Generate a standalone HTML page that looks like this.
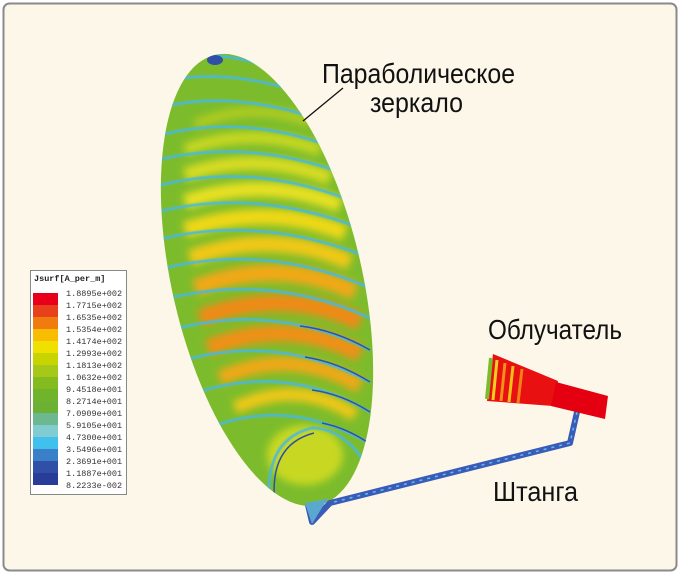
<!DOCTYPE html>
<html><head><meta charset="utf-8"><style>
html,body{margin:0;padding:0;background:#fff}
svg{display:block}
</style></head><body>
<svg width="680" height="574" viewBox="0 0 680 574" xmlns="http://www.w3.org/2000/svg">
<defs>
<clipPath id="dish"><ellipse cx="267" cy="280" rx="95" ry="231" transform="rotate(-13 267 280)"/></clipPath>
<filter id="bl" x="-20%" y="-20%" width="140%" height="140%"><feGaussianBlur stdDeviation="4"/></filter>
<filter id="bl2"><feGaussianBlur stdDeviation="0.8"/></filter>
</defs>
<rect x="0" y="0" width="680" height="574" fill="#fff"/>
<rect x="3.5" y="3.5" width="673" height="567" rx="6" fill="#fdf7ea" stroke="#8a8a8a" stroke-width="2"/>

<!-- dish -->
<g clip-path="url(#dish)">
<rect x="150" y="40" width="240" height="490" fill="#7cbc2c"/>
<g filter="url(#bl)">
<path d="M185 150 Q250 125 320 150" stroke="#c8d820" stroke-width="12" fill="none"/>
<path d="M185 175 Q255 150 330 178" stroke="#d8dc20" stroke-width="14" fill="none"/>
<path d="M185 202 Q262 175 340 205" stroke="#e8e020" stroke-width="15" fill="none"/>
<path d="M185 230 Q268 202 345 233" stroke="#f0d818" stroke-width="16" fill="none"/>
<path d="M190 258 Q272 228 350 262" stroke="#f2c818" stroke-width="16" fill="none"/>
<path d="M195 288 Q278 256 355 292" stroke="#f2a818" stroke-width="17" fill="none"/>
<path d="M200 318 Q283 286 360 322" stroke="#f08a18" stroke-width="17" fill="none"/>
<path d="M208 348 Q288 316 360 354" stroke="#f09018" stroke-width="17" fill="none"/>
<path d="M220 378 Q293 346 360 386" stroke="#f0a818" stroke-width="15" fill="none"/>
<path d="M235 408 Q298 378 355 415" stroke="#f0c818" stroke-width="13" fill="none"/>
<ellipse cx="305" cy="455" rx="38" ry="30" fill="#c8d820"/>
<path d="M195 125 Q250 100 310 122" stroke="#b0cc20" stroke-width="10" fill="none"/>
</g>
<g fill="none" stroke="#48b8e0" stroke-width="2.5" filter="url(#bl2)">
<path d="M150 62 Q210 45 280 70"/>
<path d="M150 85 Q215 65 300 92"/>
<path d="M150 110 Q225 88 315 118"/>
<path d="M150 138 Q235 112 330 146"/>
<path d="M150 162 Q240 137 340 172"/>
<path d="M150 188 Q245 160 350 200"/>
<path d="M150 214 Q250 186 360 228"/>
<path d="M150 242 Q255 212 370 258"/>
<path d="M150 272 Q260 240 370 288"/>
<path d="M155 302 Q265 270 370 318"/>
<path d="M165 332 Q270 300 370 350"/>
<path d="M178 362 Q275 332 370 382"/>
<path d="M192 394 Q285 362 370 412"/>
<path d="M208 428 Q290 396 370 444"/>
<path d="M270 510 Q262 440 312 428 Q345 428 370 470"/>
</g>
<g fill="none" stroke="#3050a8" stroke-width="1.5">
<path d="M300 326 Q335 330 370 350"/>
<path d="M305 357 Q338 362 370 382"/>
<path d="M312 390 Q342 394 370 412"/>
<path d="M322 423 Q347 428 370 444"/>
<path d="M275 505 Q268 445 314 433"/>
</g>
<ellipse cx="215" cy="60" rx="8" ry="5" fill="#3050a8"/>
</g>

<!-- strut -->
<path d="M577 412 L570 443 L330 503 L312 522 L308 505" fill="none" stroke="#3a5cb8" stroke-width="6" stroke-linejoin="round"/>
<path d="M577 412 L570 443 L330 503" fill="none" stroke="#5ac0e8" stroke-width="1.5" stroke-dasharray="3 5"/>
<path d="M305 503 L322 500 L328 498 L312 524 Z" fill="#5aa8d0"/>

<!-- feed -->
<polygon points="493,354 558,381 553,406 487,401" fill="#e81010"/>
<polygon points="556,382 608,396 605,419 551,406" fill="#e40010"/>
<path d="M491 358 L487 399" stroke="#7cbc2c" stroke-width="4"/>
<path d="M497 360 L493 400" stroke="#f0d020" stroke-width="3"/>
<path d="M505 363 L501 401" stroke="#f09018" stroke-width="3"/>
<path d="M513 366 L509 402" stroke="#f0c018" stroke-width="3"/>
<path d="M522 369 L518 403" stroke="#f08018" stroke-width="3"/>

<!-- legend -->
<rect x="30.5" y="270.5" width="96" height="224" fill="#fff" stroke="#888"/>
<text x="34" y="281" font-family="Liberation Mono, monospace" font-size="8.5" font-weight="bold" fill="#222">Jsurf[A_per_m]</text>
<g>
<rect x="33" y="293" width="25" height="12" fill="#e8001a"/>
<rect x="33" y="305" width="25" height="12" fill="#e8401a"/>
<rect x="33" y="317" width="25" height="12" fill="#f07c10"/>
<rect x="33" y="329" width="25" height="12" fill="#f8bc00"/>
<rect x="33" y="341" width="25" height="12" fill="#f0e000"/>
<rect x="33" y="353" width="25" height="12" fill="#c8d400"/>
<rect x="33" y="365" width="25" height="12" fill="#a6c818"/>
<rect x="33" y="377" width="25" height="12" fill="#84bc20"/>
<rect x="33" y="389" width="25" height="12" fill="#70b42c"/>
<rect x="33" y="401" width="25" height="12" fill="#6cb034"/>
<rect x="33" y="413" width="25" height="12" fill="#6cb890"/>
<rect x="33" y="425" width="25" height="12" fill="#80ccd0"/>
<rect x="33" y="437" width="25" height="12" fill="#40c0ec"/>
<rect x="33" y="449" width="25" height="12" fill="#3a80c8"/>
<rect x="33" y="461" width="25" height="12" fill="#3050a8"/>
<rect x="33" y="473" width="25" height="12" fill="#283c98"/>
</g>
<g font-family="Liberation Mono, monospace" font-size="8.5" fill="#333">
<text x="66" y="296">1.8895e+002</text>
<text x="66" y="308">1.7715e+002</text>
<text x="66" y="320">1.6535e+002</text>
<text x="66" y="332">1.5354e+002</text>
<text x="66" y="344">1.4174e+002</text>
<text x="66" y="356">1.2993e+002</text>
<text x="66" y="368">1.1813e+002</text>
<text x="66" y="380">1.0632e+002</text>
<text x="66" y="392">9.4518e+001</text>
<text x="66" y="404">8.2714e+001</text>
<text x="66" y="416">7.0909e+001</text>
<text x="66" y="428">5.9105e+001</text>
<text x="66" y="440">4.7300e+001</text>
<text x="66" y="452">3.5496e+001</text>
<text x="66" y="464">2.3691e+001</text>
<text x="66" y="476">1.1887e+001</text>
<text x="66" y="488">8.2233e-002</text>
</g>

<!-- labels -->
<line x1="303" y1="121" x2="343" y2="88" stroke="#111" stroke-width="1.3"/>
<g font-family="Liberation Sans, sans-serif" font-size="28" fill="#111">
<text x="322" y="83" textLength="193" lengthAdjust="spacingAndGlyphs">Параболическое</text>
<text x="370" y="112" textLength="93" lengthAdjust="spacingAndGlyphs">зеркало</text>
<text x="488" y="339" textLength="134" lengthAdjust="spacingAndGlyphs">Облучатель</text>
<text x="493" y="501" textLength="85" lengthAdjust="spacingAndGlyphs">Штанга</text>
</g>
</svg>
</body></html>
